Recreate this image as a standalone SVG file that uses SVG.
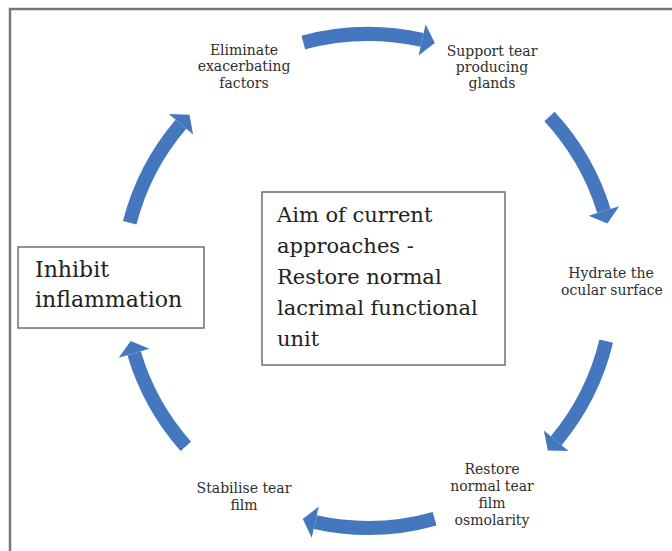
<svg xmlns="http://www.w3.org/2000/svg" width="672" height="551" viewBox="0 0 672 551">
<style>
.frame{fill:none;stroke:#777;stroke-width:2.5}
.box{fill:#fff;stroke:#6e6e6e;stroke-width:1.5}
.shaft{fill:none;stroke:#4577bf;stroke-width:14;stroke-linecap:butt}
.head{fill:#4577bf}
.lbl{font-family:"DejaVu Serif","Liberation Serif",serif;font-size:14px;fill:#2e2e2e;text-anchor:middle}
.big{font-family:"DejaVu Serif","Liberation Serif",serif;font-size:21px;fill:#222}
</style>
<rect width="672" height="551" fill="#fff"/>
<path class="frame" d="M10,551 V9 H672"/>
<g id="connectors">
<g id="arrow-top"><path class="shaft" d="M303.3,42.5 A250,250 0 0 1 422.1,39.9"/><polygon class="head" points="425.6,24.3 434.8,43.1 418.6,55.5"/></g>
<g id="arrow-upper-right"><path class="shaft" d="M549.5,116.5 A247,247 0 0 1 604,211"/><polygon class="head" points="619.2,206.2 607.4,223.4 588.7,215.7"/></g>
<g id="arrow-lower-right"><path class="shaft" d="M606.2,341.2 A245,245 0 0 1 556.2,440.8"/><polygon class="head" points="568.5,451.1 547.8,450.5 543.9,430.6"/></g>
<g id="arrow-bottom"><path class="shaft" d="M434.6,518.7 A244,244 0 0 1 315.2,522.2"/><polygon class="head" points="311.7,537.8 302.8,519.1 318.7,506.6"/></g>
<g id="arrow-lower-left"><path class="shaft" d="M185.8,446.3 A244,244 0 0 1 134.1,353.3"/><polygon class="head" points="118.7,357.8 130.7,341 149.4,348.8"/></g>
<g id="arrow-upper-left"><path class="shaft" d="M129.7,222.8 A246,246 0 0 1 180.9,124.2"/><polygon class="head" points="168.8,113.9 189.5,114.7 193.1,134.6"/></g>
</g>
<g id="node-eliminate"><text class="lbl"><tspan x="244" y="55">Eliminate</tspan><tspan x="244" y="71">exacerbating</tspan><tspan x="244" y="88">factors</tspan></text></g>
<g id="node-support"><text class="lbl"><tspan x="492" y="56">Support tear</tspan><tspan x="492" y="72">producing</tspan><tspan x="492" y="88">glands</tspan></text></g>
<g id="node-hydrate"><text class="lbl"><tspan x="611" y="278">Hydrate the</tspan><tspan x="612" y="295">ocular surface</tspan></text></g>
<g id="node-restore"><text class="lbl"><tspan x="492" y="474">Restore</tspan><tspan x="492" y="491">normal tear</tspan><tspan x="492" y="508">film</tspan><tspan x="492" y="525">osmolarity</tspan></text></g>
<g id="node-stabilise"><text class="lbl"><tspan x="244" y="493">Stabilise tear</tspan><tspan x="244" y="510">film</tspan></text></g>
<g id="node-inhibit"><rect class="box" x="18" y="247" width="186" height="81"/><text class="big" style="font-size:22px"><tspan x="35" y="277">Inhibit</tspan><tspan x="35" y="307">inflammation</tspan></text></g>
<g id="node-aim"><rect class="box" x="262" y="192" width="243" height="173"/><text class="big"><tspan x="277" y="222">Aim of current</tspan><tspan x="277" y="253">approaches -</tspan><tspan x="277" y="284">Restore normal</tspan><tspan x="277" y="315">lacrimal functional</tspan><tspan x="277" y="346">unit</tspan></text></g>
</svg>
